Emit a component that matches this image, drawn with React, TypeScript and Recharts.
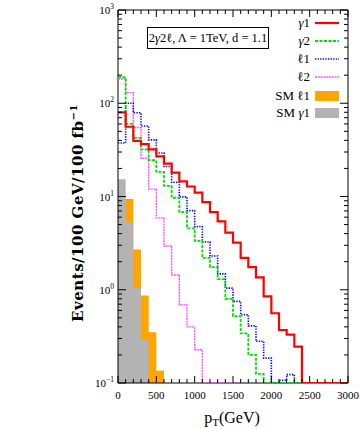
import React from 'react';
import { ComposedChart, Line, Area, XAxis, YAxis, ReferenceArea } from 'recharts';

// bin edges in GeV (100 GeV bins)
const ptEdges = [
  0, 100, 200, 300, 400, 500, 600, 700, 800, 900, 1000, 1100, 1200, 1300, 1400, 1500,
  1600, 1700, 1800, 1900, 2000, 2100, 2200, 2300, 2400, 2500, 2600, 2700, 2800, 2900, 3000,
];
const ptLabels = [0, 500, 1000, 1500, 2000, 2500, 3000];

const decades = [0.1, 1, 10, 100];
const mantissas = [1, 2, 3, 4, 5, 6, 7, 8, 9];

// events per 100 GeV bin
const gamma1 = [80, 56, 39.5, 36.5, 32, 27, 22.5, 18, 14.5, 12.8, 11, 8.7, 6.8, 5.4, 4.1, 3.2, 2.2, 1.75, 1.36, 0.85, 0.56, 0.37, 0.33, 0.245];
const gamma2 = [190, 60, 42.5, 32, 24.5, 18.4, 13, 9.7, 6.8, 4.55, 3.35, 2.2, 1.75, 1.3, 0.8, 0.52, 0.34, 0.2, 0.125];
const lep1 = [37.5, 100, 79, 57, 40.5, 29.3, 21, 14.2, 9.9, 7.05, 4.75, 3.25, 2.3, 1.48, 1.04, 0.75, 0.54, 0.41, 0.28, 0.185, 0.1, 0.107, 0.123];
const lep2 = [182, 130, 55, 25.7, 12, 5.9, 2.95, 1.44, 0.69, 0.4, 0.227];
const smLep1 = [9, 9.4, 2.7, 0.87, 0.35, 0.135];
const smGamma1 = [15.3, 5.3, 1.05, 0.29];

const FLOOR = 0.1;
const PLOT_LEFT = 118;
const PLOT_RIGHT = 348;
const PLOT_TOP = 10;
const PLOT_BOTTOM = 383;

const SERIF = '"Liberation Serif", "DejaVu Serif", serif';

function fill(values: number[], lastEdge: number) {
  return ptEdges.map((e, i) => (i < values.length ? values[i] : e <= lastEdge ? FLOOR : null));
}

const cols = {
  g1: fill(gamma1, 3000),
  g2: fill(gamma2, 3000),
  l1: fill(lep1, 3000),
  l2: fill(lep2, 1500),
  smL: fill(smLep1, 600),
  smG: fill(smGamma1, 400),
};

const rows = ptEdges.map((pt, i) => ({
  pt,
  g1: cols.g1[i],
  g2: cols.g2[i],
  l1: cols.l1[i],
  l2: cols.l2[i],
  smL: cols.smL[i],
  smG: cols.smG[i],
}));

const yTicks = [...decades.flatMap((d) => mantissas.map((m) => +(d * m).toPrecision(3))), 1000];

const legendItems = [
  { label: 'γ1', color: '#ff0000', kind: 'line', dash: undefined, width: 2.2 },
  { label: 'γ2', color: '#00e000', kind: 'line', dash: '3 1.5', width: 1.8 },
  { label: 'ℓ1', color: '#0000ff', kind: 'line', dash: '1.3 1.3', width: 1.6 },
  { label: 'ℓ2', color: '#ff55ff', kind: 'line', dash: '2 0.8', width: 1.4 },
  { label: 'SM ℓ1', color: '#ffa500', kind: 'box' },
  { label: 'SM γ1', color: '#b3b3b3', kind: 'box' },
];
const legendY = [23, 41, 59, 77, 96, 113];

function withItalicGamma(s: string) {
  return s.split(/(γ)/).map((p, i) => (p === 'γ' ? <i key={i}>γ</i> : <span key={i}>{p}</span>));
}

function YTick(props: any) {
  const { y, payload } = props;
  const v = payload.value as number;
  const lg = Math.log10(v);
  const major = Math.abs(lg - Math.round(lg)) < 1e-6;
  const len = major ? 8 : 4;
  return (
    <g>
      <line x1={PLOT_LEFT} x2={PLOT_LEFT + len} y1={y} y2={y} stroke="#000" strokeWidth={1} />
      <line x1={PLOT_RIGHT - len} x2={PLOT_RIGHT} y1={y} y2={y} stroke="#000" strokeWidth={1} />
      {major && (
        <text x={PLOT_LEFT - 4} y={y + 4} textAnchor="end" fontFamily={SERIF} fontSize={11} fill="#000">
          10
          <tspan dy={-5} fontSize={7.5}>
            {Math.round(lg) < 0 ? '−' + Math.abs(Math.round(lg)) : Math.round(lg)}
          </tspan>
        </text>
      )}
    </g>
  );
}

function XTick(props: any) {
  const { x, payload } = props;
  const v = payload.value as number;
  const major = ptLabels.includes(v);
  const len = major ? 7 : 4;
  return (
    <g>
      <line x1={x} x2={x} y1={PLOT_BOTTOM} y2={PLOT_BOTTOM - len} stroke="#000" strokeWidth={1} />
      <line x1={x} x2={x} y1={PLOT_TOP} y2={PLOT_TOP + len} stroke="#000" strokeWidth={1} />
      {major && (
        <text x={x} y={PLOT_BOTTOM + 16} textAnchor="middle" fontFamily={SERIF} fontSize={11} fill="#000">
          {v}
        </text>
      )}
    </g>
  );
}

function XTitle() {
  return (
    <text x={232} y={423} textAnchor="middle" fontFamily={SERIF} fontSize={16} fill="#000">
      p<tspan dy={3} fontSize={11}>T</tspan>
      <tspan dy={-3}>(GeV)</tspan>
    </text>
  );
}

function YTitle() {
  return (
    <text
      x={83}
      y={213}
      transform="rotate(-90 83 213)"
      textAnchor="middle"
      fontFamily='"DejaVu Serif", serif'
      fontWeight="bold"
      fontSize={15}
      letterSpacing={0.5}
      fill="#000"
    >
      Events/100 GeV/100 fb
      <tspan dy={-6} fontSize={10}>−1</tspan>
    </text>
  );
}

export default function App() {
  return (
    <div style={{ position: 'absolute', left: 0, top: 0, width: 360, height: 429, background: '#fff', fontFamily: SERIF }}>
      <ComposedChart width={360} height={429} data={rows} margin={{ top: 10, right: 12, bottom: 16, left: 58 }}>
        <XAxis
          dataKey="pt"
          type="number"
          domain={[0, 3000]}
          ticks={ptEdges}
          interval={0}
          tick={(p: any) => <XTick {...p} />}
          tickLine={false}
          axisLine={false}
          height={30}
          label={<XTitle />}
        />
        <YAxis
          type="number"
          scale="log"
          domain={[0.1, 1000]}
          allowDataOverflow
          ticks={yTicks}
          interval={0}
          tick={(p: any) => <YTick {...p} />}
          tickLine={false}
          axisLine={false}
          width={60}
          label={<YTitle />}
        />
        <Area type="stepAfter" dataKey="smL" stroke="none" fill="#ffa500" fillOpacity={1} baseValue={FLOOR} isAnimationActive={false} dot={false} activeDot={false} />
        <Area type="stepAfter" dataKey="smG" stroke="none" fill="#b3b3b3" fillOpacity={1} baseValue={FLOOR} isAnimationActive={false} dot={false} activeDot={false} />
        <Line type="stepAfter" dataKey="l2" stroke="#ff55ff" strokeWidth={1.4} strokeDasharray="2 0.8" dot={false} activeDot={false} isAnimationActive={false} />
        <Line type="stepAfter" dataKey="l1" stroke="#0000ff" strokeWidth={1.6} strokeDasharray="1.3 1.3" dot={false} activeDot={false} isAnimationActive={false} />
        <Line type="stepAfter" dataKey="g2" stroke="#00e000" strokeWidth={1.8} strokeDasharray="3 1.5" dot={false} activeDot={false} isAnimationActive={false} />
        <Line type="stepAfter" dataKey="g1" stroke="#ff0000" strokeWidth={2.2} dot={false} activeDot={false} isAnimationActive={false} />
        <ReferenceArea x1={0} x2={3000} y1={0.1} y2={1000} fill="none" stroke="#000" strokeWidth={1} ifOverflow="visible" />
      </ComposedChart>

      {/* annotation box */}
      <div
        style={{
          position: 'absolute', left: 147, top: 27, width: 120, height: 20, border: '1px solid #000',
          fontSize: 12.5, lineHeight: '20px', textAlign: 'center', background: '#fff', whiteSpace: 'nowrap',
        }}
      >
        2<i>γ</i>2ℓ, Λ = 1TeV, d = 1.1
      </div>

      {/* legend */}
      {legendItems.map((it, i) => (
        <React.Fragment key={it.label}>
          <div
            style={{
              position: 'absolute', right: 360 - 310, top: legendY[i] - 9, height: 18, lineHeight: '18px',
              fontSize: 13, whiteSpace: 'nowrap',
            }}
          >
            {withItalicGamma(it.label)}
          </div>
          {it.kind === 'line' ? (
            <svg style={{ position: 'absolute', left: 315, top: legendY[i] - 3 }} width={24} height={6}>
              <line x1={0} x2={24} y1={3} y2={3} stroke={it.color} strokeWidth={it.width} strokeDasharray={it.dash} />
            </svg>
          ) : (
            <div style={{ position: 'absolute', left: 315, top: legendY[i] - 5, width: 24, height: 10, background: it.color }} />
          )}
        </React.Fragment>
      ))}
    </div>
  );
}
